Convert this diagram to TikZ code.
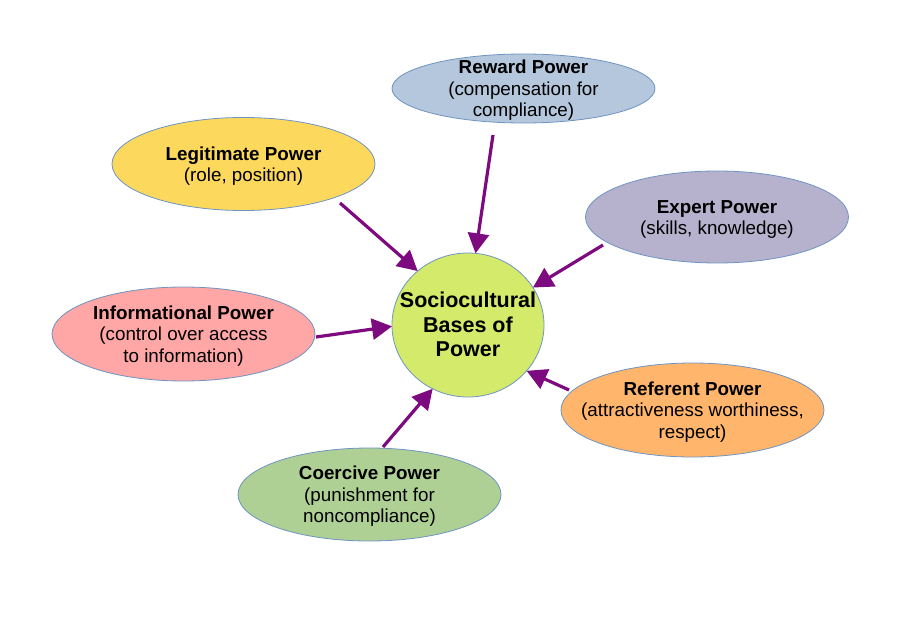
\documentclass[tikz,border=0pt]{standalone}
\usepackage{fontspec}
\setmainfont{Liberation Sans}
\usetikzlibrary{shapes.geometric,arrows.meta}
\definecolor{cReward}{HTML}{B4C7DC}
\definecolor{cLegit}{HTML}{FCD95C}
\definecolor{cExpert}{HTML}{B6B2CE}
\definecolor{cInfo}{HTML}{FFA6A6}
\definecolor{cRef}{HTML}{FFB66C}
\definecolor{cCoer}{HTML}{AFD095}
\definecolor{cCenter}{HTML}{D4EA6B}
\definecolor{cEdge}{HTML}{6F94C2}
\definecolor{cArrow}{HTML}{7E0A80}
\newcommand{\boxtext}[1]{\raisebox{-7pt}[0pt][0pt]{\makebox[0pt]{\smash{\fontsize{18.8}{21.5}\selectfont\begin{tabular}{@{}c@{}}#1\end{tabular}}}}}
\tikzset{
  pw/.style={ellipse, draw=cEdge, line width=0.8pt, inner sep=0pt, outer sep=0pt,
    minimum width=263pt, minimum height=93pt},
  hub/.style={ellipse, draw=cEdge, line width=0.8pt, fill=cCenter, inner sep=0pt, outer sep=0pt,
    minimum width=152pt, minimum height=144pt},
  arr/.style={draw=cArrow, line width=3.2pt, -{Triangle[length=20pt,width=21pt]}, fill=cArrow}
}
\begin{document}
\begin{tikzpicture}[x=1pt,y=-1pt]
\useasboundingbox (0,0) rectangle (900,621);
\fill[white] (0,0) rectangle (900,621);

\node[pw, fill=cReward, minimum height=69pt] (rew) at (523.5,88.5)
  {\boxtext{\textbf{Reward Power}\\(compensation for\\compliance)}};
\node[pw, fill=cLegit] (leg) at (243.5,164)
  {\boxtext{\textbf{Legitimate Power}\\(role, position)}};
\node[pw, fill=cExpert, minimum height=92pt] (exp) at (717,217)
  {\boxtext{\textbf{Expert Power}\\(skills, knowledge)}};
\node[pw, fill=cInfo, minimum height=94pt] (inf) at (183.5,334)
  {\boxtext{\textbf{Informational Power}\\(control over access\\to information)}};
\node[pw, fill=cRef, minimum height=94pt] (ref) at (692.5,410)
  {\boxtext{\textbf{Referent Power}\\(attractiveness worthiness,\\respect)}};
\node[pw, fill=cCoer] (coe) at (369.5,494.5)
  {\boxtext{\textbf{Coercive Power}\\(punishment for\\noncompliance)}};

\node[hub] (c) at (468,325)
  {\raisebox{-7.5pt}[0pt][0pt]{\makebox[0pt]{\smash{\fontsize{21.5}{24.5}\selectfont\bfseries\begin{tabular}{@{}c@{}}Sociocultural\\Bases of\\Power\end{tabular}}}}};

\coordinate (tleg) at (340,203);
\coordinate (trew) at (493,135);
\coordinate (texp) at (603,245);
\coordinate (tinf) at (316,337);
\coordinate (tref) at (569,390);
\coordinate (tcoe) at (383,447);

\draw[arr] (tleg) -- (c.133);
\draw[arr] (trew) -- (c.84);
\draw[arr] (texp) -- (c.30);
\draw[arr] (tinf) -- (c.181);
\draw[arr] (tref) -- (c.-38);
\draw[arr] (tcoe) -- (c.-119);
\end{tikzpicture}
\end{document}
